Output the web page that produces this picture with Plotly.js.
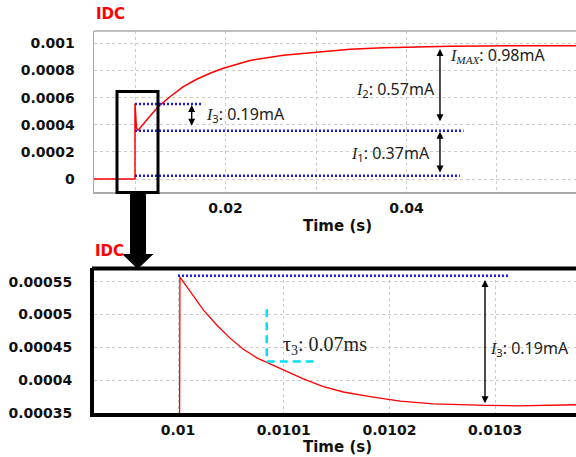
<!DOCTYPE html>
<html>
<head>
<meta charset="utf-8">
<script src="https://cdn.plot.ly/plotly-3.0.1.min.js"></script>
<style>
html,body{margin:0;padding:0;background:#fff;}
#chart{width:576px;height:457px;}
</style>
</head>
<body>
<div id="chart"></div>
<script>
// ---- data ----
const time_s = [0, 0.0100009, 0.0100018,
  0.0100114, 0.0100239, 0.0100366, 0.0100492, 0.0100618, 0.0100745, 0.0100839,
  0.0100996, 0.0101185, 0.0101375, 0.0101564, 0.0101817, 0.01021, 0.0102415,
  0.0102731, 0.0102921, 0.0103204, 0.010352, 0.0103766,
  0.01129, 0.01257, 0.01387, 0.01534, 0.01682, 0.01829, 0.01976, 0.02124,
  0.02271, 0.02639, 0.03008, 0.03376, 0.03744, 0.04002, 0.04481, 0.04845,
  0.05218, 0.05873];
const idc_A = [0, 0, 0.000557,
  0.000535, 0.000507, 0.000484, 0.000464, 0.000447, 0.000434, 0.000427,
  0.000416, 0.000402, 0.00039, 0.000382, 0.000375, 0.000368, 0.000364,
  0.000362, 0.0003616, 0.000361, 0.000362, 0.0003626,
  0.000435, 0.000534, 0.000607, 0.000681, 0.000736, 0.00078, 0.000817, 0.000849,
  0.000875, 0.000913, 0.000937, 0.000957, 0.000969, 0.000974, 0.000979, 0.000982,
  0.000982, 0.000984];

const topYTicks = [0, 0.0002, 0.0004, 0.0006, 0.0008, 0.001];
const topYLabels = ['0', '0.0002', '0.0004', '0.0006', '0.0008', '0.001'];
const topXTicks = [0.01, 0.02, 0.03, 0.04, 0.05];
const topXLabels = ['', '0.02', '', '0.04', ''];
const botYTicks = [0.00035, 0.0004, 0.00045, 0.0005, 0.00055];
const botYLabels = ['0.00035', '0.0004', '0.00045', '0.0005', '0.00055'];
const botXTicks = [0.01, 0.0101, 0.0102, 0.0103];
const botXLabels = ['0.01', '0.0101', '0.0102', '0.0103'];

// annotation levels (A) and labels
const I1 = 0.37, I2 = 0.57, I3 = 0.19, IMAX = 0.98, TAU3 = 0.07;

// ---- layout helpers (pixel -> paper) ----
const W = 576, H = 457, ML = 94, MR = 0, MT = 31, MB = 44;
const PW = W - ML - MR, PH = H - MT - MB;
const px = x => (x - ML) / PW;
const py = y => (H - MB - y) / PH;

const tickFont = {family: 'DejaVu Sans', size: 14, color: '#111', weight: 'bold'};
const gridCol = '#cccccc';
const blue = '#1a1aee';
const blueDash = '2px,2px';

const traceTop = {x: time_s, y: idc_A, xaxis: 'x', yaxis: 'y', mode: 'lines',
  line: {color: '#ff0000', width: 1.5}, hoverinfo: 'skip', showlegend: false};
const traceBot = {x: time_s, y: idc_A, xaxis: 'x2', yaxis: 'y2', mode: 'lines',
  line: {color: '#ff0000', width: 1.3}, hoverinfo: 'skip', showlegend: false};

const shapes = [
  // top chart top border
  {type: 'line', xref: 'paper', yref: 'paper', x0: 0, x1: 1.01, y0: py(31), y1: py(31),
   line: {color: '#aaaaaa', width: 1.5}},
  // bottom chart top border
  {type: 'line', xref: 'paper', yref: 'paper', x0: px(92), x1: 1.01, y0: py(268.5), y1: py(268.5),
   line: {color: '#000', width: 4}},
  // blue dotted lines, top chart
  {type: 'line', xref: 'x', yref: 'y', x0: 0.01, x1: 0.0175, y0: 0.000553, y1: 0.000553,
   line: {color: blue, width: 2.5, dash: blueDash}},
  {type: 'line', xref: 'x', yref: 'y', x0: 0.01, x1: 0.0463, y0: 0.000356, y1: 0.000356,
   line: {color: blue, width: 2.5, dash: blueDash}},
  {type: 'line', xref: 'x', yref: 'y', x0: 0.01, x1: 0.0459, y0: 0.0000244, y1: 0.0000244,
   line: {color: blue, width: 2.5, dash: blueDash}},
  // blue dotted line, bottom chart
  {type: 'line', xref: 'x2', yref: 'y2', x0: 0.01, x1: 0.0103125, y0: 0.000559, y1: 0.000559,
   line: {color: blue, width: 2.5, dash: blueDash}},
  // cyan dashed tau marker
  {type: 'line', xref: 'x2', yref: 'y2', x0: 0.0100839, x1: 0.0100839, y0: 0.000508, y1: 0.0004284,
   line: {color: '#00e1f5', width: 2.5, dash: '8px,5px'}},
  {type: 'line', xref: 'x2', yref: 'y2', x0: 0.0100839, x1: 0.0101312, y0: 0.0004284, y1: 0.0004284,
   line: {color: '#00e1f5', width: 2.5, dash: '8px,5px'}},
  // zoom box
  {type: 'rect', xref: 'paper', yref: 'paper', x0: px(117), x1: px(158), y0: py(91.5), y1: py(192.5),
   line: {color: '#000', width: 3}, fillcolor: 'rgba(0,0,0,0)'},
  // big arrow
  {type: 'path', xref: 'paper', yref: 'paper',
   path: 'M ' + px(130) + ',' + py(193) + ' L ' + px(146) + ',' + py(193) + ' L ' + px(146) + ',' + py(254) +
         ' L ' + px(153.5) + ',' + py(254) + ' L ' + px(137.8) + ',' + py(269) + ' L ' + px(122) + ',' + py(254) +
         ' L ' + px(130) + ',' + py(254) + ' Z',
   fillcolor: '#000', line: {color: '#000', width: 0}}
];

const serif = "'Liberation Serif','DejaVu Serif',serif";
const sans = "'Noto Sans','DejaVu Sans',sans-serif";
const iSym = sub => '<span style="font-family:' + "Liberation Serif" + '"><i>I</i></span><sub>' + sub + '</sub>';

function arrow(xref, yref, x, y0, y1) {
  return {xref: xref, yref: yref, axref: xref, ayref: yref, x: x, y: y1, ax: x, ay: y0,
    text: '', showarrow: true, arrowhead: 2, startarrowhead: 2, arrowside: 'end+start',
    arrowsize: 1, arrowwidth: 1.4, arrowcolor: '#000', standoff: 0, startstandoff: 0};
}
function label(x, y, text, anchor, font) {
  return {xref: 'paper', yref: 'paper', x: px(x), y: py(y), text: text, showarrow: false,
    xanchor: anchor, yanchor: 'middle', font: font};
}
const annFont = {family: sans, size: 16, color: '#222'};

const annotations = [
  arrow('x', 'y', 0.016265, 0.000382, 0.000546),
  arrow('x', 'y', 0.0437, 0.000415, 0.000959),
  arrow('x', 'y', 0.0437, 0.0000369, 0.000349),
  arrow('x2', 'y2', 0.0102904, 0.0003626, 0.0005526),
  label(204, 114.5, iSym('3') + ': ' + I3.toFixed(2) + 'mA', 'left', annFont),
  label(448, 55, '<span style="font-family:Liberation Serif"><i>I</i></span><sub><span style="font-family:Liberation Serif"><i>MAX</i></span></sub>: ' + IMAX.toFixed(2) + 'mA', 'left', annFont),
  label(437, 90, iSym('2') + ': ' + I2.toFixed(2) + 'mA', 'right', annFont),
  label(432, 153.5, iSym('1') + ': ' + I1.toFixed(2) + 'mA', 'right', annFont),
  label(281, 345, '\u03c4<sub>3</sub>: ' + TAU3.toFixed(2) + 'ms', 'left', {family: serif, size: 20, color: '#222'}),
  label(488, 348.5, iSym('3') + ': ' + I3.toFixed(2) + 'mA', 'left', annFont),
  label(93.5, 13.5, '<b>IDC</b>', 'left', {family: 'DejaVu Sans', size: 15, color: '#ff0000'}),
  label(92.5, 250.5, '<b>IDC</b>', 'left', {family: 'DejaVu Sans', size: 15, color: '#ff0000'}),
  label(337, 226.5, '<b>Time (s)</b>', 'center', {family: 'DejaVu Sans', size: 15, color: '#111'}),
  label(337, 446.5, '<b>Time (s)</b>', 'center', {family: 'DejaVu Sans', size: 15, color: '#111'})
];

const layout = {
  width: W, height: H,
  margin: {l: ML, r: MR, t: MT, b: MB, pad: 0},
  paper_bgcolor: '#fff', plot_bgcolor: '#fff',
  showlegend: false,
  xaxis: {domain: [0, 1], anchor: 'y', range: [0.00547, 0.05873],
    tickmode: 'array', tickvals: topXTicks, ticktext: topXLabels, tickfont: tickFont,
    ticks: '', ticklabelstandoff: 3,
    showgrid: true, gridcolor: gridCol, griddash: 'dot', gridwidth: 1,
    zeroline: false, showline: true, linecolor: '#aaaaaa', linewidth: 1.5},
  yaxis: {domain: [py(192), 1], anchor: 'x', range: [-0.0000959, 0.001092],
    tickmode: 'array', tickvals: topYTicks, ticktext: topYLabels, tickfont: tickFont,
    ticks: '', ticklabelstandoff: 15,
    showgrid: true, gridcolor: gridCol, griddash: 'dot', gridwidth: 1,
    zeroline: false, showline: true, linecolor: '#aaaaaa', linewidth: 1.5},
  xaxis2: {domain: [0, 1], anchor: 'y2', range: [0.0099205, 0.0103765],
    tickmode: 'array', tickvals: botXTicks, ticktext: botXLabels, tickfont: tickFont,
    ticks: '', ticklabelstandoff: 1,
    showgrid: true, gridcolor: gridCol, griddash: 'dot', gridwidth: 1,
    zeroline: false, showline: true, linecolor: '#000', linewidth: 4},
  yaxis2: {domain: [0, py(268)], anchor: 'x2', range: [0.00035, 0.0005708],
    tickmode: 'array', tickvals: botYTicks, ticktext: botYLabels, tickfont: tickFont,
    ticks: '', ticklabelstandoff: 15,
    showgrid: true, gridcolor: gridCol, griddash: 'dot', gridwidth: 1,
    zeroline: false, showline: true, linecolor: '#000', linewidth: 4},
  shapes: shapes,
  annotations: annotations
};

Plotly.newPlot('chart', [traceTop, traceBot], layout, {staticPlot: true, displayModeBar: false});
</script>
</body>
</html>
